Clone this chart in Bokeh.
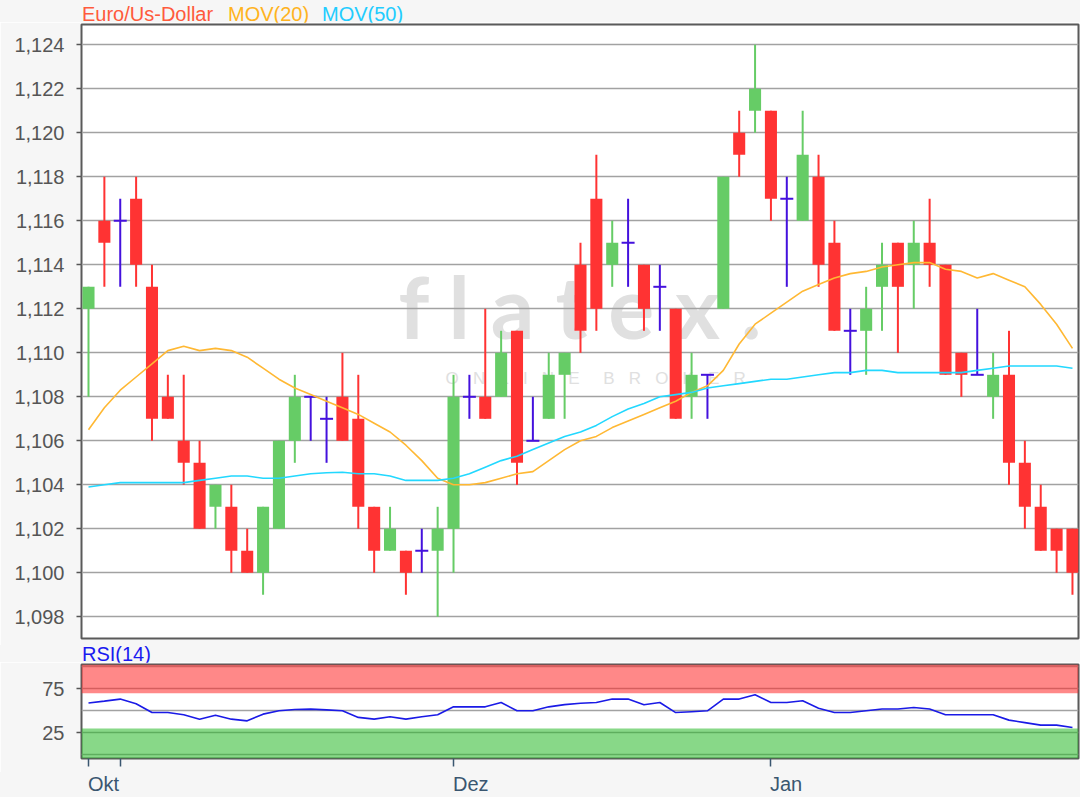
from bokeh.plotting import figure
from bokeh.layouts import column
from bokeh.models import Range1d, FixedTicker, Label, BoxAnnotation, ColumnDataSource, Div
from bokeh.embed import file_html
from bokeh.resources import INLINE

# ---------------- data ----------------
open_ = [1.112, 1.116, 1.116, 1.117, 1.113, 1.108, 1.106, 1.105, 1.103, 1.103,
         1.101, 1.100, 1.102, 1.106, 1.108, 1.107, 1.108, 1.107, 1.103, 1.101,
         1.101, 1.101, 1.101, 1.102, 1.108, 1.108, 1.108, 1.111, 1.106, 1.107,
         1.109, 1.114, 1.117, 1.114, 1.115, 1.114, 1.113, 1.112, 1.108, 1.109,
         1.112, 1.120, 1.121, 1.121, 1.117, 1.116, 1.118, 1.115, 1.111, 1.111,
         1.113, 1.115, 1.114, 1.115, 1.114, 1.110, 1.109, 1.108, 1.109, 1.105,
         1.103, 1.102, 1.102]
high = [1.113, 1.118, 1.117, 1.118, 1.114, 1.109, 1.109, 1.106, 1.104, 1.104,
        1.102, 1.103, 1.106, 1.109, 1.108, 1.108, 1.110, 1.109, 1.103, 1.103,
        1.101, 1.102, 1.103, 1.109, 1.109, 1.112, 1.111, 1.111, 1.108, 1.110,
        1.110, 1.115, 1.119, 1.116, 1.117, 1.114, 1.114, 1.112, 1.110, 1.109,
        1.118, 1.121, 1.124, 1.121, 1.118, 1.121, 1.119, 1.116, 1.112, 1.113,
        1.115, 1.115, 1.116, 1.117, 1.114, 1.110, 1.112, 1.110, 1.111, 1.106,
        1.104, 1.102, 1.102]
low = [1.108, 1.113, 1.113, 1.113, 1.106, 1.107, 1.104, 1.102, 1.102, 1.100,
       1.100, 1.099, 1.102, 1.105, 1.106, 1.105, 1.106, 1.102, 1.100, 1.101,
       1.099, 1.100, 1.098, 1.100, 1.107, 1.107, 1.108, 1.104, 1.106, 1.107,
       1.107, 1.110, 1.111, 1.113, 1.113, 1.111, 1.111, 1.107, 1.107, 1.107,
       1.112, 1.118, 1.120, 1.116, 1.113, 1.116, 1.113, 1.111, 1.109, 1.109,
       1.111, 1.110, 1.112, 1.113, 1.109, 1.108, 1.109, 1.107, 1.104, 1.102,
       1.101, 1.100, 1.099]
close = [1.113, 1.115, 1.116, 1.114, 1.107, 1.107, 1.105, 1.102, 1.104, 1.101,
         1.100, 1.103, 1.106, 1.108, 1.108, 1.107, 1.106, 1.103, 1.101, 1.102,
         1.100, 1.101, 1.102, 1.108, 1.108, 1.107, 1.110, 1.105, 1.106, 1.109,
         1.110, 1.111, 1.112, 1.115, 1.115, 1.112, 1.113, 1.107, 1.109, 1.109,
         1.118, 1.119, 1.122, 1.117, 1.117, 1.119, 1.114, 1.111, 1.111, 1.112,
         1.114, 1.113, 1.115, 1.114, 1.109, 1.109, 1.109, 1.109, 1.105, 1.103,
         1.101, 1.101, 1.100]
ma20 = [1.1065, 1.1075, 1.1083, 1.1089, 1.1095, 1.1101, 1.1103, 1.1101, 1.1102, 1.1101,
        1.1098, 1.1093, 1.1088, 1.1084, 1.1081, 1.1078, 1.1075, 1.1072, 1.1068, 1.1064,
        1.1058, 1.1051, 1.1043, 1.1040, 1.1040, 1.1041, 1.1043, 1.1045, 1.1046, 1.1051,
        1.1056, 1.1060, 1.1062, 1.1066, 1.1069, 1.1072, 1.1075, 1.1078, 1.1082, 1.1085,
        1.1092, 1.1104, 1.1113, 1.1118, 1.1123, 1.1128, 1.1131, 1.1134, 1.1136, 1.1137,
        1.1139, 1.1140, 1.1141, 1.1141, 1.1138, 1.1137, 1.1134, 1.1136, 1.1133, 1.1130,
        1.1122, 1.1113, 1.1102]
ma50 = [1.1039, 1.1040, 1.1041, 1.1041, 1.1041, 1.1041, 1.1041, 1.1042, 1.1043, 1.1044,
        1.1044, 1.1043, 1.1043, 1.1044, 1.1045, 1.10455, 1.10457, 1.1045, 1.1045, 1.1044,
        1.1042, 1.1042, 1.1042, 1.1043, 1.1045, 1.1048, 1.1051, 1.1053, 1.1056, 1.1059,
        1.1062, 1.1064, 1.1067, 1.1071, 1.10745, 1.1077, 1.1080, 1.1081, 1.1082, 1.1084,
        1.1085, 1.1086, 1.1087, 1.1088, 1.1088, 1.1089, 1.1090, 1.1091, 1.1091, 1.1092,
        1.1092, 1.1091, 1.1091, 1.1091, 1.1091, 1.1091, 1.1092, 1.1093, 1.1094, 1.1094,
        1.1094, 1.1094, 1.1093]
rsi = [58.8, 61, 63.3, 58, 48, 48, 45.5, 40.5, 45, 40.5,
       38.6, 46.2, 50, 51.5, 51.9, 51, 50, 42.5, 40.5, 43.2,
       40.5, 43.2, 45.5, 54.5, 54.5, 54.5, 59.4, 50, 50, 54.5,
       57, 58.5, 59.4, 63.3, 63.3, 56.8, 59.4, 48, 49, 50,
       63.3, 63.3, 68.2, 59.4, 59.4, 61.4, 53, 48, 48, 50,
       52, 52, 53.8, 52, 45.5, 45.5, 45.5, 45.5, 39.4, 36.6,
       33.7, 33.7, 31]
price_ticks = [1.098, 1.100, 1.102, 1.104, 1.106, 1.108, 1.110, 1.112,
               1.114, 1.116, 1.118, 1.120, 1.122, 1.124]
price_tick_labels = ["1,098", "1,100", "1,102", "1,104", "1,106", "1,108", "1,110",
                     "1,112", "1,114", "1,116", "1,118", "1,120", "1,122", "1,124"]
rsi_ticks = [25, 75]
rsi_grid = [0, 25, 50, 75, 100]
rsi_upper, rsi_lower = 70, 30
month_ticks = [0, 2, 23, 43]
month_labels = ["Okt", "", "Dez", "Jan"]
header = [("Euro/Us-Dollar", "#ff5a3c"), ("MOV(20)", "#ffb320"), ("MOV(50)", "#22ccff")]

# ---------------- styling ----------------
FONT = "Liberation Sans"
GREEN = "#66cc66"
RED = "#ff3333"
BLUE = "#4411dd"
BG = "#f6f6f6"
X0, X1 = -0.441, 62.38
Y0, Y1 = 1.097014, 1.124923
R0, R1 = -4.2, 102.6
FRAME_L = 81
PXU = 997.0 / (X1 - X0)
NB = "\u00a0"


def px2x(px):
    return X0 + (px - FRAME_L) / PXU


def x2px(x):
    return FRAME_L + (x - X0) * PXU


def py2y(py):
    return Y1 - (py - 24) * (Y1 - Y0) / 614.0


def span(text, left, top, color):
    return ('<span style="position:absolute;left:%dpx;top:%dpx;white-space:nowrap;'
            'color:%s">%s</span>' % (left, top, color, text))


def text_div(spans, height):
    html = ('<div style="position:relative;width:1080px;height:%dpx;'
            'font-family:\'%s\';font-size:20px;line-height:20px;">%s</div>'
            % (height, FONT, "".join(spans)))
    return Div(text=html, width=1080, height=height,
               styles={"background-color": BG, "overflow": "visible", "margin": "0"})


idx = list(range(len(close)))


def subset(sel):
    return ColumnDataSource(dict(
        x=[i for i in sel],
        o=[open_[i] for i in sel],
        c=[close[i] for i in sel],
        h=[high[i] for i in sel],
        l=[low[i] for i in sel],
    ))


up = subset([i for i in idx if close[i] > open_[i]])
dn = subset([i for i in idx if close[i] < open_[i]])
fl = subset([i for i in idx if close[i] == open_[i]])

# ---------------- header ----------------
head_x = [82, 228, 322]
head_div = text_div([span(t, x, 4, c) for (t, c), x in zip(header, head_x)], 22)

# ---------------- price panel ----------------
p = figure(width=1080, height=623, output_backend="svg", toolbar_location=None,
           x_range=Range1d(X0, X1), y_range=Range1d(Y0, Y1),
           x_axis_location=None, min_border_left=FRAME_L, min_border_right=2,
           min_border_top=2, min_border_bottom=7)
p.background_fill_color = "white"
p.border_fill_color = BG
p.outline_line_color = "#5a5a5a"
p.outline_line_width = 2
p.xgrid.visible = False
p.ygrid.ticker = FixedTicker(ticks=price_ticks)
p.ygrid.grid_line_color = "#a2a2a2"
p.ygrid.grid_line_width = 1.6
ax = p.yaxis[0]
ax.ticker = FixedTicker(ticks=price_ticks)
ax.major_label_overrides = dict(zip(price_ticks, price_tick_labels))
ax.axis_line_color = None
ax.major_tick_line_color = "#555555"
ax.major_tick_line_width = 1.5
ax.major_tick_out = 5
ax.major_tick_in = 0
ax.minor_tick_line_color = None
ax.major_label_standoff = 12
ax.major_label_text_font = FONT
ax.major_label_text_font_size = "20px"
ax.major_label_text_color = "#555555"

# watermark
p.add_layout(Label(x=px2x(398), y=py2y(356), text="f l a t e x .", text_font="Lato",
                   text_font_style="bold", text_font_size="86px", text_color="#e0e0e0",
                   level="image"))
wm2 = (NB * 3).join("ONLINE") + NB * 5 + (NB * 3).join("BROKER")
p.add_layout(Label(x=px2x(445), y=py2y(378), text=wm2,
                   text_font=FONT, text_font_size="17px", text_color="#e0e0e0",
                   text_baseline="middle", level="image"))

# candles
W = 0.76
p.segment(x0="x", y0="l", x1="x", y1="h", source=up, line_color=GREEN, line_width=2)
p.vbar(x="x", width=W, top="c", bottom="o", source=up, fill_color=GREEN, line_color=None)
p.segment(x0="x", y0="l", x1="x", y1="h", source=dn, line_color=RED, line_width=2)
p.vbar(x="x", width=W, top="o", bottom="c", source=dn, fill_color=RED, line_color=None)
p.segment(x0="x", y0="l", x1="x", y1="h", source=fl, line_color=BLUE, line_width=2)
p.scatter(x="x", y="o", source=fl, marker="dash", size=13, line_color=BLUE, line_width=2)

p.line(idx, ma20, line_color="#ffb833", line_width=1.6)
p.line(idx, ma50, line_color="#22d8ff", line_width=1.6)

# ---------------- RSI label ----------------
rsi_div = text_div([span("RSI(14)", 82, -1, "#1a1af0")], 17)

# ---------------- RSI panel ----------------
q = figure(width=1080, height=110, output_backend="svg", toolbar_location=None,
           x_range=p.x_range, y_range=Range1d(R0, R1),
           min_border_left=FRAME_L, min_border_right=2, min_border_top=2, min_border_bottom=14)
q.background_fill_color = "white"
q.border_fill_color = BG
q.outline_line_color = "#5a5a5a"
q.outline_line_width = 2
q.xgrid.visible = False
q.ygrid.ticker = FixedTicker(ticks=rsi_grid)
q.ygrid.grid_line_color = "#a2a2a2"
q.ygrid.grid_line_width = 1.6

qa = q.yaxis[0]
qa.ticker = FixedTicker(ticks=rsi_ticks)
qa.axis_line_color = None
qa.major_tick_line_color = "#555555"
qa.major_tick_line_width = 1.5
qa.major_tick_out = 5
qa.major_tick_in = 0
qa.minor_tick_line_color = None
qa.major_label_standoff = 12
qa.major_label_text_font = FONT
qa.major_label_text_font_size = "20px"
qa.major_label_text_color = "#555555"

xa = q.xaxis[0]
xa.ticker = FixedTicker(ticks=month_ticks)
xa.major_label_overrides = {t: "" for t in month_ticks}
xa.axis_line_color = None
xa.major_tick_line_color = "#3a5670"
xa.major_tick_line_width = 1.5
xa.major_tick_out = 8
xa.major_tick_in = 0
xa.minor_tick_line_color = None
xa.major_label_text_font_size = "1px"
xa.major_label_standoff = 0

q.add_layout(BoxAnnotation(bottom=rsi_upper, fill_color="#ff2727", fill_alpha=0.55, line_color=None))
q.add_layout(BoxAnnotation(top=rsi_lower, fill_color="#27b827", fill_alpha=0.55, line_color=None))
q.line(idx, rsi, line_color="#1a1ae6", line_width=1.6)

# ---------------- month labels ----------------
month_div = text_div([span(lab, int(round(x2px(t))), 2, "#3a5670")
                      for t, lab in zip(month_ticks, month_labels) if lab], 25)

layout = column(head_div, p, rsi_div, q, month_div, spacing=0)
open("out.html", "w").write(file_html(layout, INLINE))
